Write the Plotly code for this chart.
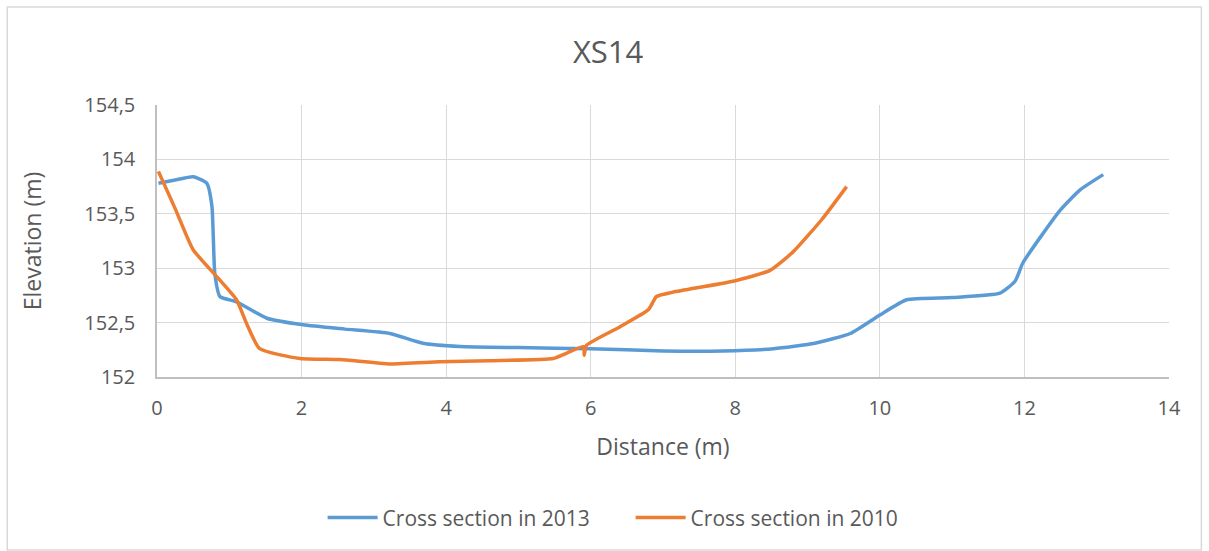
import plotly.graph_objects as go

# Cross section in 2013 (distance m, elevation m)
dist_2013 = [0.02, 0.25, 0.50, 0.69, 0.76, 0.80, 0.87, 1.10, 1.52, 2.02, 2.60, 3.22, 3.68, 4.19,
             5.00, 5.99, 7.00, 7.83, 8.53, 9.10, 9.59, 10.00, 10.37, 11.00, 11.66, 11.87,
             11.98, 12.49, 12.77, 13.09]
elev_2013 = [153.78, 153.81, 153.84, 153.78, 153.57, 152.95, 152.74, 152.69, 152.54, 152.48,
             152.44, 152.40, 152.31, 152.28, 152.27, 152.26, 152.24, 152.24, 152.26, 152.31,
             152.40, 152.57, 152.71, 152.73, 152.77, 152.88, 153.05, 153.53, 153.72, 153.86]

# Cross section in 2010
dist_2010 = [0.02, 0.25, 0.50, 0.83, 1.10, 1.24, 1.42, 1.98, 2.53, 3.22, 3.91, 4.60, 5.48,
             5.67, 5.90, 5.91, 5.94, 6.40, 6.80, 6.91, 7.14, 7.97, 8.48, 8.80, 9.20, 9.54]
elev_2010 = [153.89, 153.55, 153.17, 152.92, 152.71, 152.49, 152.26, 152.17, 152.16, 152.12,
             152.14, 152.15, 152.17, 152.22, 152.28, 152.20, 152.29, 152.46, 152.62, 152.74,
             152.78, 152.88, 152.98, 153.15, 153.45, 153.75]

x_ticks = [0, 2, 4, 6, 8, 10, 12, 14]
y_ticks = [152, 152.5, 153, 153.5, 154, 154.5]

grey = "#595959"
fnt = "Open Sans, Noto Sans, sans-serif"

fig = go.Figure()
fig.add_trace(go.Scatter(x=dist_2013, y=elev_2013, mode="lines", name="Cross section in 2013",
                         line=dict(color="#5b9bd5", width=3.5, shape="spline", smoothing=0.5)))
fig.add_trace(go.Scatter(x=dist_2010, y=elev_2010, mode="lines", name="Cross section in 2010",
                         line=dict(color="#ed7d31", width=3.5, shape="spline", smoothing=0.5)))

fig.update_layout(
    width=1209, height=551,
    margin=dict(l=157, r=40, t=105, b=174, autoexpand=False),
    paper_bgcolor="white", plot_bgcolor="white",
    separators=",.",
    font=dict(family=fnt, color=grey, size=20),
    title=dict(text="XS14", x=0.503, xanchor="center", y=0.906, yanchor="middle",
               font=dict(size=31, color=grey, family=fnt)),
    xaxis=dict(range=[0, 14], tickvals=x_ticks, showgrid=True, gridcolor="#d9d9d9",
               showline=True, linecolor="#bfbfbf", linewidth=1.5, zeroline=False,
               ticks="", ticklabelstandoff=12, tickfont=dict(size=20, color=grey),
               title=dict(text="Distance (m)", font=dict(size=23, color=grey), standoff=19)),
    yaxis=dict(range=[152, 154.5], tickvals=y_ticks, showgrid=True, gridcolor="#d9d9d9",
               showline=True, linecolor="#bfbfbf", linewidth=1.5, zeroline=False,
               ticks="", ticklabelstandoff=16, tickfont=dict(size=20, color=grey),
               title=dict(text="Elevation (m)", font=dict(size=23, color=grey), standoff=36)),
    legend=dict(orientation="h", x=0.468, xanchor="center", y=-0.518, yanchor="middle",
                font=dict(size=21, color=grey), tracegroupgap=0,
                itemwidth=50, entrywidth=243, entrywidthmode="pixels"),
    showlegend=True,
)

# outer chart border
fig.add_shape(type="rect", xref="paper", yref="paper", x0=-0.148, x1=1.032, y0=-0.636, y1=1.36,
              line=dict(color="#d9d9d9", width=1.5), fillcolor="rgba(0,0,0,0)", layer="below")

fig.write_html("out.html", config={"displayModeBar": False},
               post_script="document.body.style.margin='0';")
